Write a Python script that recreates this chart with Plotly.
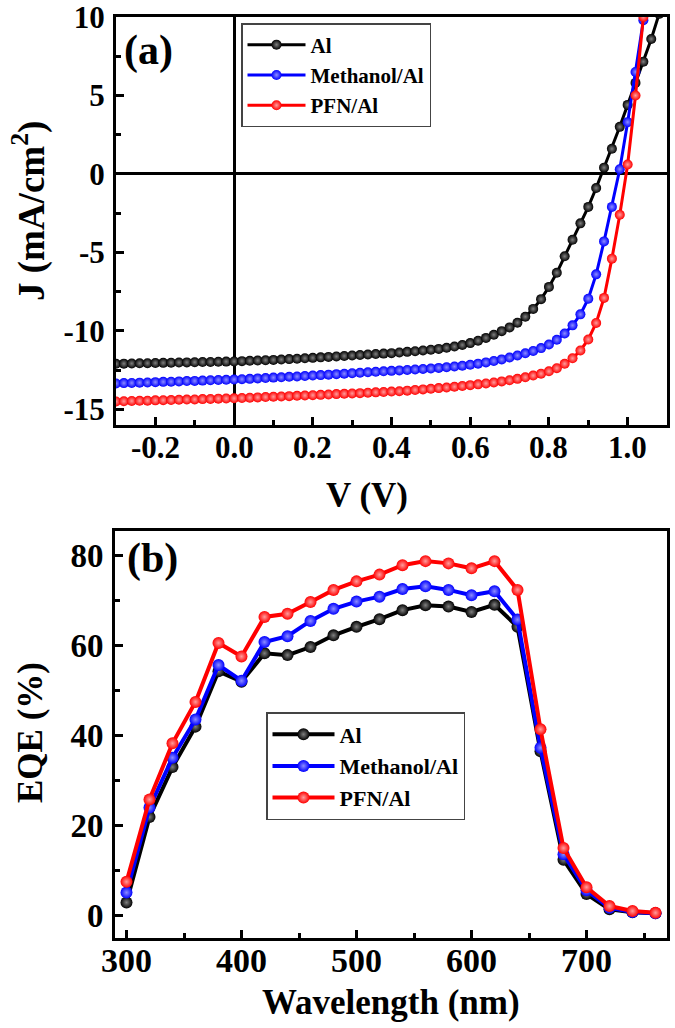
import plotly.graph_objects as go

# ---------------- data: (a) J-V curves ----------------
voltage = [-0.30, -0.28, -0.26, -0.24, -0.22, -0.20, -0.18, -0.16, -0.14, -0.12,
           -0.10, -0.08, -0.06, -0.04, -0.02, 0.00, 0.02, 0.04, 0.06, 0.08,
           0.10, 0.12, 0.14, 0.16, 0.18, 0.20, 0.22, 0.24, 0.26, 0.28,
           0.30, 0.32, 0.34, 0.36, 0.38, 0.40, 0.42, 0.44, 0.46, 0.48,
           0.50, 0.52, 0.54, 0.56, 0.58, 0.60, 0.62, 0.64, 0.66, 0.68,
           0.70, 0.72, 0.74, 0.76, 0.78, 0.80, 0.82, 0.84, 0.86, 0.88,
           0.90, 0.92, 0.94, 0.96, 0.98, 1.00, 1.02, 1.04, 1.06, 1.08]

j_al = [-12.10, -12.09, -12.08, -12.07, -12.06, -12.05, -12.04, -12.03, -12.02, -12.01,
        -12.00, -11.99, -11.98, -11.97, -11.96, -11.95, -11.93, -11.91, -11.89, -11.87,
        -11.85, -11.83, -11.80, -11.78, -11.75, -11.72, -11.69, -11.66, -11.63, -11.60,
        -11.57, -11.54, -11.51, -11.48, -11.45, -11.42, -11.38, -11.34, -11.30, -11.25,
        -11.20, -11.15, -11.08, -11.00, -10.90, -10.78, -10.63, -10.45, -10.25, -10.02,
        -9.78, -9.48, -9.10, -8.60, -7.98, -7.20, -6.30, -5.25, -4.20, -3.15,
        -2.10, -0.90, 0.40, 1.60, 3.00, 4.40, 5.80, 7.15, 8.60, 10.20]

j_methanol = [-13.35, -13.33, -13.32, -13.30, -13.29, -13.27, -13.25, -13.24, -13.22, -13.20,
              -13.19, -13.17, -13.15, -13.13, -13.12, -13.10, -13.08, -13.06, -13.03, -13.01,
              -12.98, -12.96, -12.93, -12.91, -12.88, -12.85, -12.82, -12.79, -12.76, -12.73,
              -12.70, -12.67, -12.64, -12.61, -12.58, -12.55, -12.52, -12.49, -12.46, -12.43,
              -12.40, -12.36, -12.32, -12.27, -12.22, -12.16, -12.09, -12.01, -11.92, -11.82,
              -11.70, -11.57, -11.43, -11.28, -11.10, -10.87, -10.57, -10.17, -9.65, -8.95,
              -7.95, -6.40, -4.30, -2.10, 0.30, 3.30, 6.50, 9.80]

j_pfn = [-14.50, -14.49, -14.47, -14.46, -14.45, -14.43, -14.42, -14.41, -14.39, -14.38,
         -14.37, -14.35, -14.34, -14.32, -14.31, -14.30, -14.28, -14.26, -14.24, -14.22,
         -14.20, -14.18, -14.16, -14.14, -14.12, -14.10, -14.08, -14.06, -14.03, -14.01,
         -13.99, -13.97, -13.94, -13.92, -13.90, -13.87, -13.85, -13.81, -13.77, -13.73,
         -13.69, -13.65, -13.61, -13.56, -13.51, -13.46, -13.41, -13.35, -13.29, -13.22,
         -13.15, -13.06, -12.96, -12.85, -12.73, -12.58, -12.38, -12.10, -11.75, -11.25,
         -10.55, -9.50, -7.90, -5.40, -2.60, 0.60, 5.00, 10.00]

# ---------------- data: (b) EQE spectra ----------------
wavelength = [300, 320, 340, 360, 380, 400, 420, 440, 460, 480, 500, 520,
              540, 560, 580, 600, 620, 640, 660, 680, 700, 720, 740, 760]

eqe_al = [2.9, 21.9, 33.0, 42.0, 54.3, 52.0, 58.3, 57.9, 59.7, 62.3, 64.2, 65.9,
          67.9, 69.0, 68.7, 67.5, 69.1, 64.2, 36.5, 12.4, 4.8, 1.4, 0.7, 0.5]

eqe_methanol = [5.1, 24.0, 35.1, 43.6, 55.7, 52.2, 60.8, 62.1, 65.5, 68.2, 69.8, 70.9,
                72.6, 73.2, 72.4, 71.2, 72.1, 65.8, 37.3, 13.6, 5.6, 1.7, 0.8, 0.5]

eqe_pfn = [7.5, 25.8, 38.3, 47.5, 60.6, 57.6, 66.4, 67.1, 69.7, 72.4, 74.3, 75.8,
           77.9, 78.8, 78.3, 77.2, 78.8, 72.4, 41.4, 15.0, 6.3, 2.1, 1.0, 0.6]

series_names = ["Al", "Methanol/Al", "PFN/Al"]
series_colors = ["#000000", "#0000FF", "#FF0000"]
highlight_colors = ["#808080", "#8c8cff", "#ff9c9c"]

jv_tickvals = [-0.2, 0.0, 0.2, 0.4, 0.6, 0.8, 1.0]
jv_ticktext = ["-0.2", "0.0", "0.2", "0.4", "0.6", "0.8", "1.0"]
jv_minor = [-0.3, -0.1, 0.1, 0.3, 0.5, 0.7, 0.9, 1.1]
j_tickvals = [-15, -10, -5, 0, 5, 10]
j_ticktext = ["-15", "-10", "-5", "0", "5", "10"]
j_minor = [-12.5, -7.5, -2.5, 2.5, 7.5]
wl_tickvals = [300, 400, 500, 600, 700]
wl_ticktext = ["300", "400", "500", "600", "700"]
wl_minor = [350, 450, 550, 650, 750]
eqe_tickvals = [0, 20, 40, 60, 80]
eqe_minor = [10, 30, 50, 70]

# ---------------- figure ----------------
W, H = 675, 1028
FONT = "Liberation Serif, Times New Roman, serif"

fig = go.Figure()

jv_series = [j_al, j_methanol, j_pfn]
for name, j, col, hl in zip(series_names, jv_series, series_colors, highlight_colors):
    fig.add_trace(go.Scatter(
        x=voltage[:len(j)], y=j, mode="lines+markers", name=name,
        line=dict(color=col, width=3),
        marker=dict(size=10, color=col, line=dict(width=0),
                    gradient=dict(type="radial", color=hl)),
        xaxis="x", yaxis="y", legend="legend"))

eqe_series = [eqe_al, eqe_methanol, eqe_pfn]
for name, e, col, hl in zip(series_names, eqe_series, series_colors, highlight_colors):
    fig.add_trace(go.Scatter(
        x=wavelength, y=e, mode="lines+markers", name=name,
        line=dict(color=col, width=4),
        marker=dict(size=12, color=col, line=dict(width=0),
                    gradient=dict(type="radial", color=hl)),
        xaxis="x2", yaxis="y2", legend="legend2"))


def px_x(p):
    return p / W


def px_y(p):
    return 1 - p / H


def tickfont(size):
    return dict(family=FONT, size=size, color="black", weight="bold")


common = dict(showline=True, linecolor="black", linewidth=3, mirror=True,
              ticks="inside", ticklen=8, tickwidth=2.5, tickcolor="black",
              showgrid=False, automargin=False, ticklabeloverflow="allow")
minor_common = dict(ticks="inside", ticklen=5, tickwidth=2.5, tickcolor="black",
                    showgrid=False)

fig.update_layout(
    width=W, height=H,
    margin=dict(l=0, r=0, t=0, b=0),
    paper_bgcolor="white", plot_bgcolor="white",
    xaxis=dict(domain=[px_x(116), px_x(667)], range=[-0.3, 1.1], anchor="y",
               tickmode="array", tickvals=jv_tickvals, showticklabels=False,
               minor=dict(tickvals=jv_minor, **minor_common),
               zeroline=True, zerolinecolor="black", zerolinewidth=2.5,
               **common),
    yaxis=dict(domain=[px_y(425), px_y(17)], range=[-16, 10], anchor="x",
               tickmode="array", tickvals=j_tickvals, ticktext=j_ticktext,
               minor=dict(tickvals=j_minor, **minor_common),
               zeroline=True, zerolinecolor="black", zerolinewidth=2.5,
               tickfont=tickfont(31), ticklabelstandoff=2, **common),
    xaxis2=dict(domain=[px_x(115), px_x(667)], range=[290, 770], anchor="y2",
                tickmode="array", tickvals=wl_tickvals, showticklabels=False,
                minor=dict(tickvals=wl_minor, **minor_common),
                zeroline=False, **common),
    yaxis2=dict(domain=[px_y(938), px_y(531)], range=[-5, 85.5], anchor="x2",
                tickmode="array", tickvals=eqe_tickvals,
                minor=dict(tickvals=eqe_minor, **minor_common),
                zeroline=False, tickfont=tickfont(33), ticklabelstandoff=2,
                **common),
    legend=dict(x=px_x(241), y=px_y(23), xanchor="left", yanchor="top",
                bgcolor="white", bordercolor="#444444", borderwidth=1.5,
                font=dict(family=FONT, size=21, color="black", weight="bold"),
                tracegroupgap=0, itemwidth=58),
    legend2=dict(x=px_x(266), y=px_y(712), xanchor="left", yanchor="top",
                 bgcolor="white", bordercolor="#444444", borderwidth=1.5,
                 font=dict(family=FONT, size=22, color="black", weight="bold"),
                 tracegroupgap=0, itemwidth=62),
    showlegend=True,
)

# x tick labels as text placed at the tick values of each x axis
for v, t in zip(jv_tickvals, jv_ticktext):
    fig.add_annotation(text=t, x=v, xref="x", y=px_y(447), yref="paper",
                       showarrow=False, xanchor="center", yanchor="middle",
                       font=tickfont(31))
for v, t in zip(wl_tickvals, wl_ticktext):
    fig.add_annotation(text=t, x=v, xref="x2", y=px_y(960), yref="paper",
                       showarrow=False, xanchor="center", yanchor="middle",
                       font=tickfont(34))

title_font = dict(family=FONT, size=35, color="black", weight="bold")
j_title_font = dict(family=FONT, size=37, color="black", weight="bold")
label_font = dict(family=FONT, size=42, color="black", weight="bold")

annotations = [
    dict(text="J (mA/cm<sup>2</sup>)", x=px_x(29), y=px_y(211), textangle=-90, font=j_title_font),
    dict(text="V (V)", x=px_x(367), y=px_y(495), font=title_font),
    dict(text="EQE (%)", x=px_x(30), y=px_y(733), textangle=-90, font=title_font),
    dict(text="Wavelength (nm)", x=px_x(391), y=px_y(1002), font=title_font),
    dict(text="(a)", x=px_x(148), y=px_y(50), font=label_font),
    dict(text="(b)", x=px_x(152), y=px_y(558), font=label_font),
]
for a in annotations:
    fig.add_annotation(xref="paper", yref="paper", showarrow=False,
                       xanchor="center", yanchor="middle", **a)

fig.write_html("out.html",
               config={"displayModeBar": False},
               post_script="document.body.style.margin='0px';document.body.style.padding='0px';")
